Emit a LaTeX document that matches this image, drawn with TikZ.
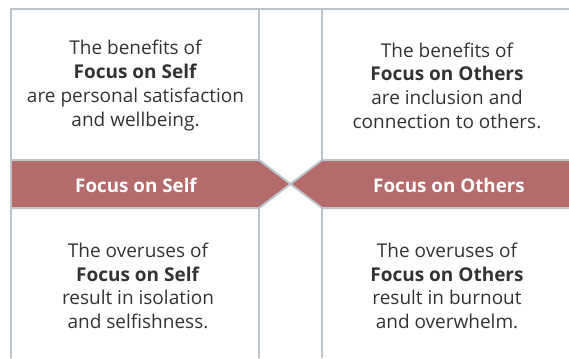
\documentclass[tikz,border=0pt]{standalone}
\usepackage{fontspec}
\setmainfont{Open Sans}
\usetikzlibrary{calc}
\definecolor{band_red}{HTML}{B36B6B}
\definecolor{line_grey}{HTML}{BDC5CC}
\definecolor{text_grey}{HTML}{333333}

\begin{document}
\begin{tikzpicture}[x=1pt,y=-1pt,
    grid/.style={line_grey,line width=2pt},
    band/.style={fill=band_red,draw=line_grey,line width=2pt,line join=miter},
    txt/.style={text=text_grey,align=center,font=\fontsize{19}{23.7}\selectfont},
    lbl/.style={text=white,font=\fontsize{18.8}{20}\selectfont\bfseries}]
              \useasboundingbox (0,0) rectangle (569,358);
              \coordinate (TL) at (11,9);
              \coordinate (BL) at (11,358);
              \coordinate (TR) at (569,9);
              \coordinate (X) at (290.5,184);
              % frame and the two inner verticals
              \draw[grid] (BL) -- (TL) -- (TR);
              \draw[grid] (259,9) -- (259,160) (259,208) -- (259,358);
              \draw[grid] (322,9) -- (322,160) (322,208) -- (322,358);
              % the two bands meeting in the middle
              \draw[band] (12,160) -- (259,160) -- (X) -- (259,208) -- (12,208);
              \draw[band] (570,160) -- (322,160) -- (X) -- (322,208) -- (570,208);
              \node[lbl] (selflbl) at (136,185) {Focus on Self};
              \node[lbl] (otherslbl) at (449,185) {Focus on Others};
              % texts of the four boxes
              \node[txt] (selfgood) at (135.5,85.5) {The benefits of\\\textbf{Focus on Self}\\are personal satisfaction\\and wellbeing.};
              \node[txt] (othersgood) at (447,85.5) {The benefits of\\\textbf{Focus on Others}\\are inclusion and\\connection to others.};
              \node[txt] (selfover) at (138,286) {The overuses of\\\textbf{Focus on Self}\\result in isolation\\and selfishness.};
              \node[txt] (othersover) at (447,286) {The overuses of\\\textbf{Focus on Others}\\result in burnout\\and overwhelm.};
          \end{tikzpicture}
\end{document}
